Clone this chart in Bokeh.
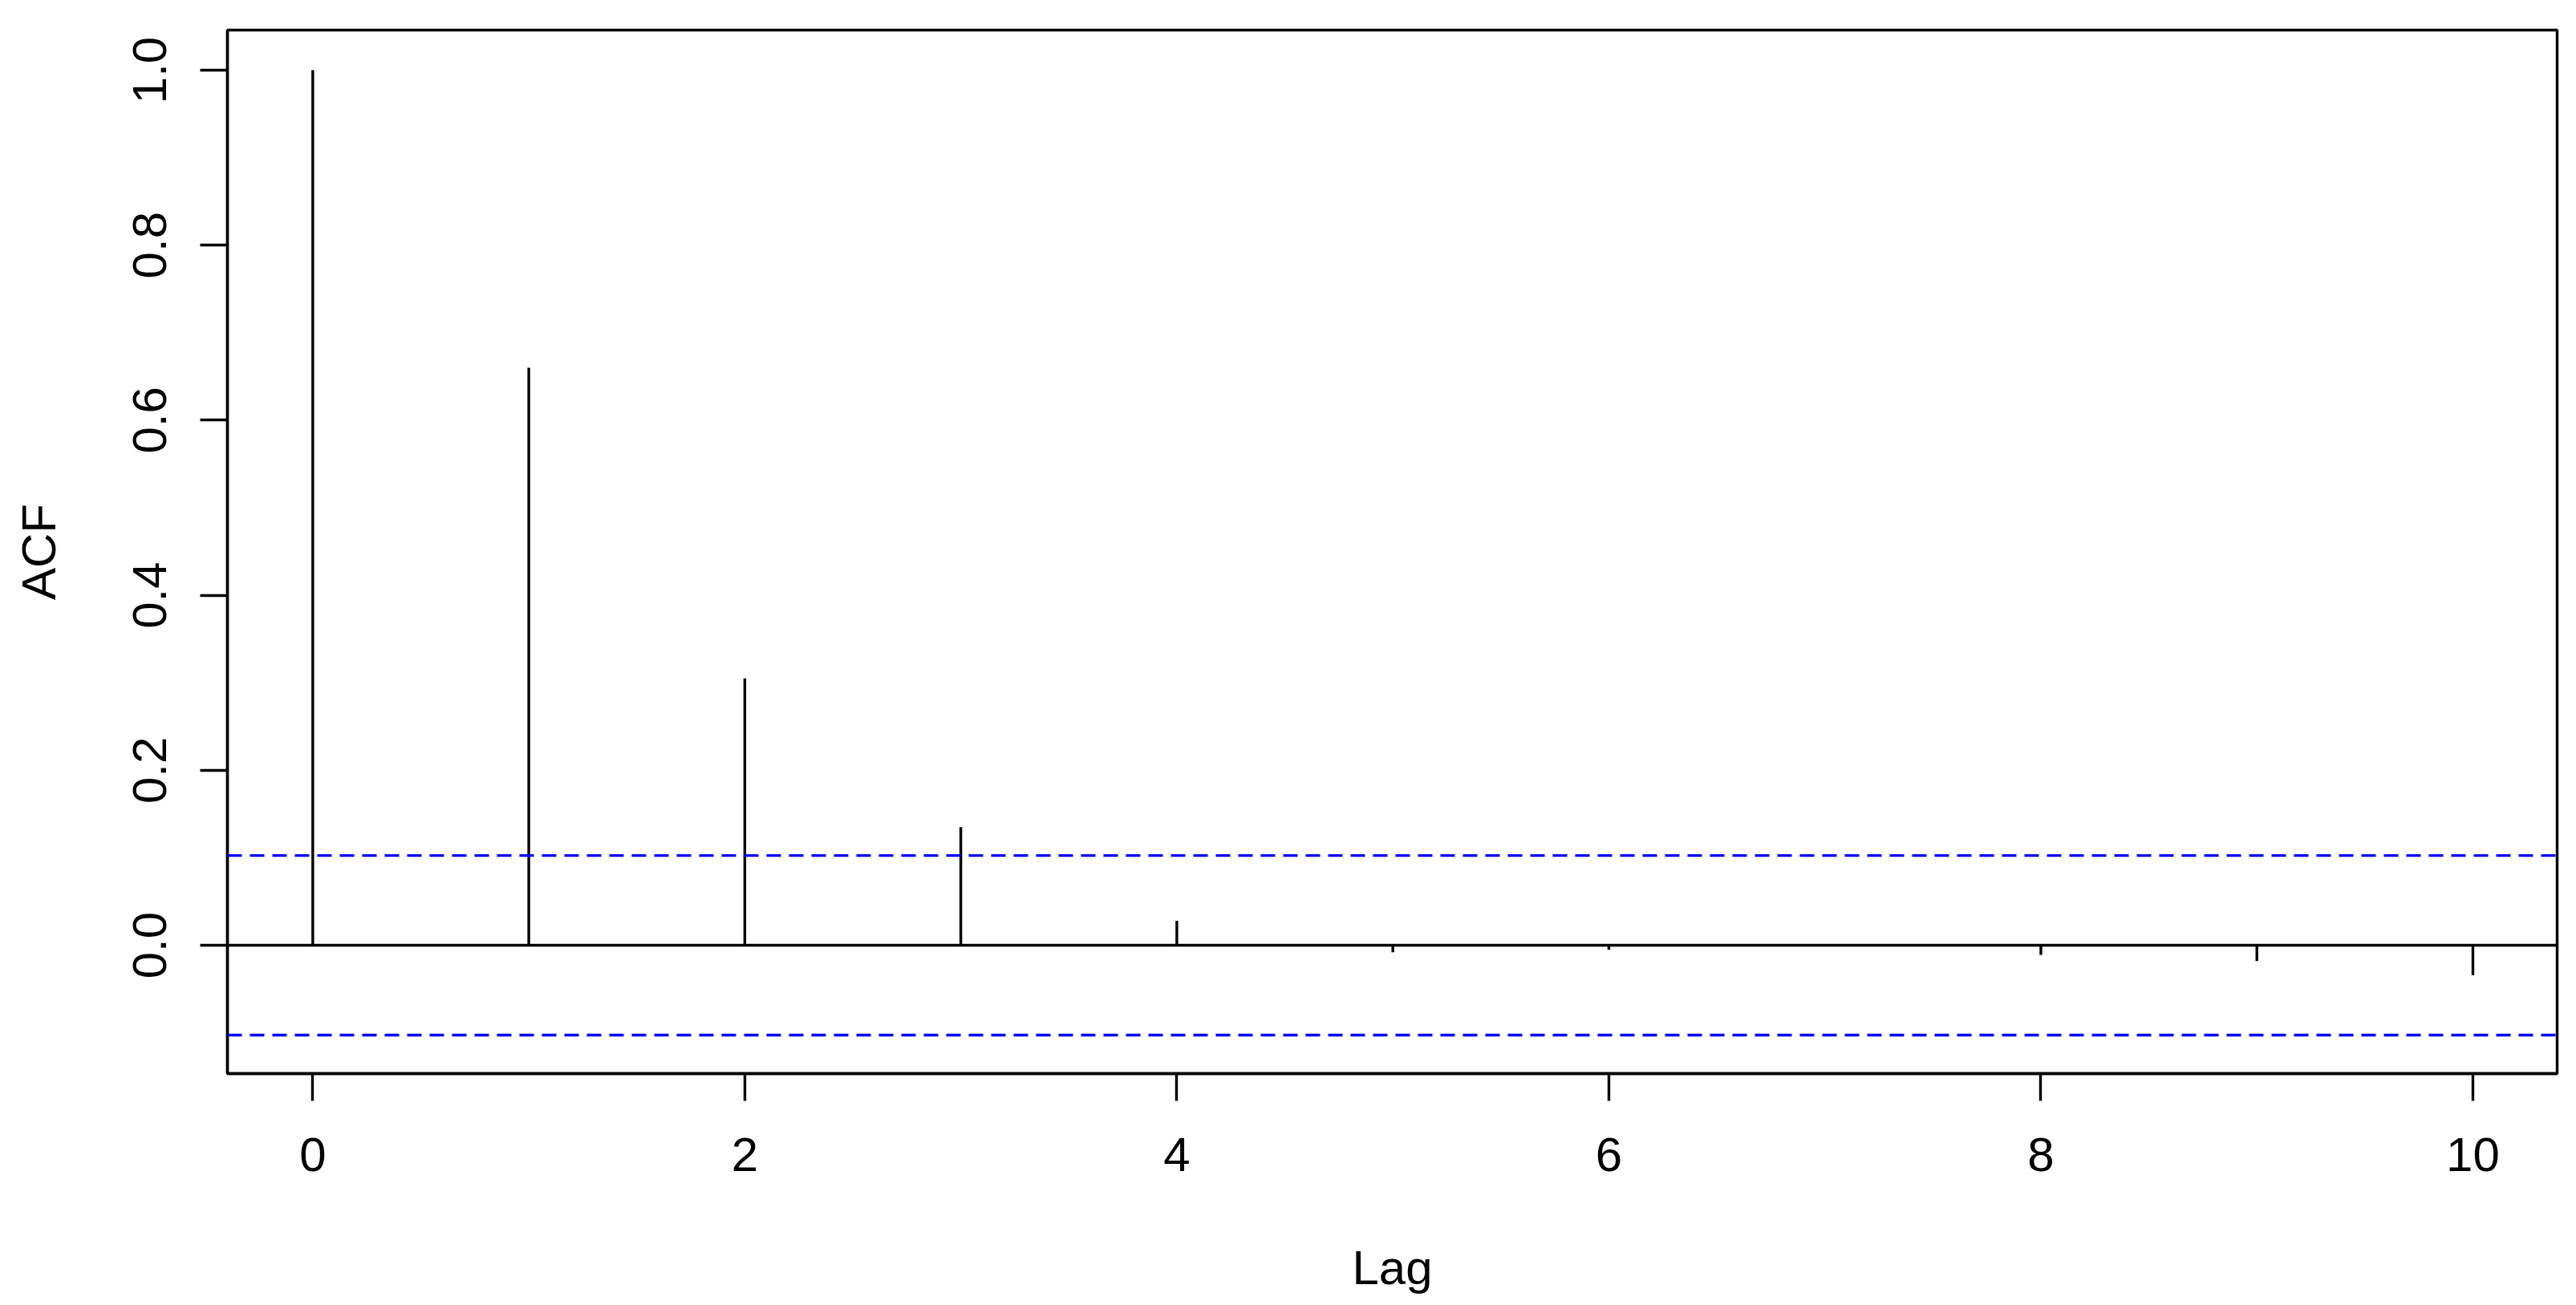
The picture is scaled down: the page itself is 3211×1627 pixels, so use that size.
from bokeh.plotting import figure
from bokeh.models import Span, FixedTicker, Range1d, CustomJSTickFormatter
from bokeh.embed import file_html
from bokeh.resources import INLINE

# ---- data ----
lags = [0, 1, 2, 3, 4, 5, 6, 7, 8, 9, 10]
acf_values = [1.0, 0.660, 0.305, 0.135, 0.028, -0.008, -0.005, 0.001, -0.011, -0.018, -0.034]
ci_bound = 0.1026
x_ticks = [0, 2, 4, 6, 8, 10]
y_ticks = [0.0, 0.2, 0.4, 0.6, 0.8, 1.0]
x_label = "Lag"
y_label = "ACF"

FONT = "Liberation Sans"
FS = "60px"
LW = 3.4

p = figure(
    width=3203, height=1619,
    output_backend="svg", toolbar_location=None,
    x_range=Range1d(-0.395, 10.39), y_range=Range1d(-0.1466, 1.0458),
    min_border_left=283, min_border_right=16, min_border_top=37, min_border_bottom=281,
    background_fill_color="white", border_fill_color="white",
)
p.outline_line_color = "black"
p.outline_line_width = LW
p.xgrid.visible = False
p.ygrid.visible = False

# stems
p.segment(x0=lags, y0=[0] * len(lags), x1=lags, y1=acf_values, line_color="black", line_width=LW)

# zero line and confidence bounds
p.add_layout(Span(location=0, dimension="width", line_color="black", line_width=LW))
p.add_layout(Span(location=ci_bound, dimension="width", line_color="#0000FF", line_width=LW, line_dash="18 10"))
p.add_layout(Span(location=-ci_bound, dimension="width", line_color="#0000FF", line_width=LW, line_dash="18 10"))

for ax in (p.xaxis[0], p.yaxis[0]):
    ax.axis_line_color = "black"
    ax.axis_line_width = LW
    ax.major_tick_line_color = "black"
    ax.major_tick_line_width = LW
    ax.major_tick_out = 34
    ax.major_tick_in = 0
    ax.minor_tick_line_color = None
    ax.major_label_text_font = FONT
    ax.major_label_text_font_size = FS
    ax.major_label_text_color = "black"
    ax.axis_label_text_font = FONT
    ax.axis_label_text_font_size = FS
    ax.axis_label_text_font_style = "normal"
    ax.axis_label_text_color = "black"

p.xaxis.ticker = FixedTicker(ticks=x_ticks)
p.yaxis.ticker = FixedTicker(ticks=y_ticks)
p.yaxis.formatter = CustomJSTickFormatter(code="return tick.toFixed(1);")
p.yaxis.major_label_orientation = "vertical"
p.xaxis.axis_label = x_label
p.yaxis.axis_label = y_label
p.xaxis.major_label_standoff = 46
p.yaxis.major_label_standoff = 42
p.xaxis.axis_label_standoff = 84
p.yaxis.axis_label_standoff = 82

open("out.html", "w").write(file_html(p, INLINE))
